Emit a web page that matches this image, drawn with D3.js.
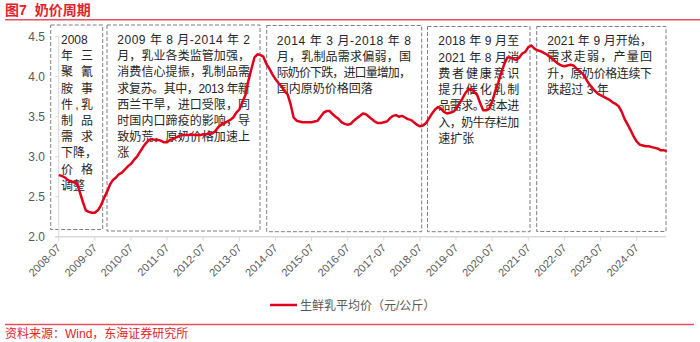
<!DOCTYPE html>
<html><head><meta charset="utf-8">
<script src="https://cdn.jsdelivr.net/npm/d3@7"></script>
<style>
body{margin:0;background:#fff}
svg{display:block}
text{font-family:"Liberation Sans","Noto Sans CJK SC",sans-serif}
</style>
</head><body><svg id="c" width="700" height="342"></svg>
<script>
const titleNum = "图7";
const titleText = "奶价周期";
const sourceText = "资料来源：Wind，东海证券研究所";
const seriesName = "生鲜乳平均价（元/公斤）";
const startMonth = "2008-07";
const endMonth = "2025-05";
const values = [
  2.77,2.76,2.74,2.71,2.69,2.68,                                  // 2008 Jul-Dec
  2.67,2.55,2.44,2.33,2.31,2.30,2.30,2.33,2.39,2.48,2.56,2.65,    // 2009
  2.71,2.74,2.78,2.80,2.84,2.88,2.91,2.96,3.00,3.06,3.12,3.17,    // 2010
  3.21,3.22,3.21,3.21,3.20,3.18,3.18,3.21,3.22,3.24,3.26,3.27,    // 2011
  3.27,3.27,3.28,3.27,3.27,3.27,3.28,3.28,3.29,3.29,3.32,3.37,    // 2012
  3.40,3.42,3.44,3.46,3.49,3.55,3.59,3.68,3.77,3.95,4.10,4.24,    // 2013
  4.28,4.27,4.25,4.16,4.10,4.03,3.97,3.92,3.88,3.82,3.78,3.66,    // 2014
  3.49,3.45,3.44,3.43,3.43,3.43,3.43,3.44,3.45,3.50,3.55,3.57,    // 2015
  3.57,3.53,3.50,3.47,3.43,3.41,3.40,3.41,3.45,3.48,3.51,3.54,    // 2016
  3.53,3.50,3.47,3.44,3.42,3.42,3.43,3.44,3.48,3.51,3.52,3.50,    // 2017
  3.51,3.49,3.47,3.46,3.43,3.40,3.38,3.39,3.42,3.48,3.54,3.59,    // 2018
  3.62,3.60,3.56,3.54,3.55,3.56,3.59,3.66,3.72,3.79,3.84,3.85,    // 2019
  3.81,3.77,3.67,3.58,3.58,3.60,3.69,3.82,3.93,4.05,4.16,4.24,    // 2020
  4.24,4.22,4.21,4.24,4.29,4.31,4.37,4.39,4.35,4.33,4.32,4.30,    // 2021
  4.28,4.25,4.22,4.19,4.16,4.14,4.13,4.14,4.15,4.14,4.10,4.07,    // 2022
  4.04,3.98,3.92,3.87,3.83,3.79,3.77,3.75,3.73,3.71,3.68,3.66,    // 2023
  3.63,3.56,3.47,3.40,3.33,3.25,3.19,3.15,3.14,3.13,3.13,3.12,    // 2024
  3.11,3.10,3.08,3.08,3.07                                        // 2025 Jan-May
];
const tickLabels = ["2008-07","2009-07","2010-07","2011-07","2012-07","2013-07","2014-07","2015-07",
  "2016-07","2017-07","2018-07","2019-07","2020-07","2021-07","2022-07","2023-07","2024-07"];
const yTicks = [2.0,2.5,3.0,3.5,4.0,4.5];
const note1 = ["2008","年三","聚氰","胺事","件,乳","制品","需求","下降，","价格","调整"];
const note2 = ["2009 年 8 月-2014 年 2","月，乳业各类监管加强，","消费信心提振，乳制品需","求复苏。其中，2013 年新",
  "西兰干旱，进口受限，同","时国内口蹄疫的影响，导","致奶荒，原奶价格加速上","涨"];
const note3 = ["2014 年 3 月-2018 年 8","月，乳制品需求偏弱，国","际奶价下跌，进口量增加，","国内原奶价格回落"];
const note4 = ["2018 年 9 月至","2021 年 8 月消","费者健康意识","提升催化乳制","品需求。资本进","入，奶牛存栏加","速扩张"];
const note5 = ["2021 年 9 月开始，","需求走弱，产量回","升，原奶价格连续下","跌超过 3 年"];

const svg = d3.select("#c");
const parse = d3.timeParse("%Y-%m");
const months = d3.timeMonth.range(parse(startMonth), d3.timeMonth.offset(parse(endMonth), 1));
const data = months.map((d, i) => ({date: d, v: values[i]}));

const x = d3.scaleTime().domain([parse("2008-07"), parse("2024-07")]).range([58.7, 636.7]);
const y = d3.scaleLinear().domain([2, 4.5]).range([236.7, 36.7]);
const red = "#e3222b";

// title
const t = svg.append("text").attr("x", 5).attr("y", 15).attr("fill", red)
  .attr("font-size", 14).attr("font-weight", "bold");
t.append("tspan").text(titleNum);
t.append("tspan").attr("dx", 8).text(titleText);
svg.append("line").attr("x1", 5).attr("x2", 700).attr("y1", 19.8).attr("y2", 19.8)
  .attr("stroke", "#e8505e").attr("stroke-width", 1.5);

// notes boxes
const boxes = [
  {lines: note1, bx0: 50.7, bx1: 102.7, by0: 25, by1: 229.5, tx0: 61, tx1: 93, ty: 44, lh: 16.2, justify: [0,1,1,1,1,1,1,0,1,0]},
  {lines: note2, bx0: 107, bx1: 260, by0: 25, by1: 231, tx0: 117.3, tx1: 250, ty: 44, lh: 16.2, justify: [1,1,1,1,1,1,1,0]},
  {lines: note3, bx0: 266.7, bx1: 421.7, by0: 25.5, by1: 231.7, tx0: 276.7, tx1: 411, ty: 44.5, lh: 16.1, justify: [1,1,1,0]},
  {lines: note4, bx0: 427.5, bx1: 530, by0: 26.5, by1: 231.7, tx0: 438.3, tx1: 519.3, ty: 45.2, lh: 16.3, justify: [1,1,1,1,1,1,0]},
  {lines: note5, bx0: 536.7, bx1: 666, by0: 26.5, by1: 231.5, tx0: 547.3, tx1: 652, ty: 45.2, lh: 16.2, justify: [1,1,1,0]}
];
boxes.forEach(b => {
  svg.append("rect").attr("x", b.bx0).attr("y", b.by0).attr("width", b.bx1 - b.bx0).attr("height", b.by1 - b.by0)
    .attr("fill", "none").attr("stroke", "#7f7f7f").attr("stroke-width", 1).attr("stroke-dasharray", "4,2");
  b.lines.forEach((ln, i) => {
    const tt = svg.append("text").attr("x", b.tx0).attr("y", b.ty + i * b.lh)
      .attr("font-size", 12).attr("fill", "#262626").text(ln);
    if (b.justify[i]) tt.attr("textLength", b.tx1 - b.tx0).attr("lengthAdjust", "spacing");
  });
});

// axes
const axisColor = "#d9d9d9";
svg.append("line").attr("x1", 58.7).attr("x2", 58.7).attr("y1", y(4.5)).attr("y2", y(2))
  .attr("stroke", axisColor);
svg.append("line").attr("x1", 55).attr("x2", 666).attr("y1", y(2)).attr("y2", y(2))
  .attr("stroke", axisColor).attr("stroke-width", 1.5);
yTicks.forEach(v => {
  svg.append("line").attr("x1", 55).attr("x2", 58.7).attr("y1", y(v)).attr("y2", y(v)).attr("stroke", axisColor);
  svg.append("text").attr("x", 45).attr("y", y(v) + 4.5).attr("text-anchor", "end")
    .attr("font-size", 12).attr("fill", "#595959").text(v.toFixed(1));
});
tickLabels.forEach(lbl => {
  const xx = x(parse(lbl));
  svg.append("line").attr("x1", xx).attr("x2", xx).attr("y1", y(2)).attr("y2", y(2) + 4).attr("stroke", axisColor);
  svg.append("text").attr("transform", `translate(${xx + 3},${y(2) + 12}) rotate(-45)`)
    .attr("text-anchor", "end").attr("font-size", 11).attr("fill", "#595959").text(lbl);
});

// series line
svg.append("path").datum(data)
  .attr("fill", "none").attr("stroke", "#e0001b").attr("stroke-width", 2.5).attr("stroke-linejoin", "round")
  .attr("d", d3.line().x(d => x(d.date)).y(d => y(d.v)));

// legend
svg.append("line").attr("x1", 270).attr("x2", 297).attr("y1", 305).attr("y2", 305)
  .attr("stroke", "#e0001b").attr("stroke-width", 2.5);
svg.append("text").attr("x", 300).attr("y", 309.5).attr("font-size", 12).attr("fill", "#595959").text(seriesName);

// source
svg.append("line").attr("x1", 5).attr("x2", 694).attr("y1", 324.5).attr("y2", 324.5)
  .attr("stroke", "#e8505e").attr("stroke-width", 1.5);
svg.append("text").attr("x", 5).attr("y", 338).attr("font-size", 12).attr("fill", red).text(sourceText);
</script></body></html>
